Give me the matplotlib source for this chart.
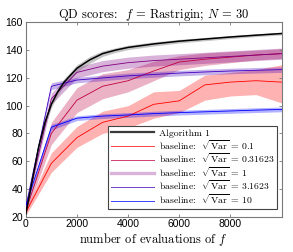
"""QD scores on Rastrigin: Algorithm 1 against baselines with different mutation spreads."""

import matplotlib

matplotlib.use("Agg")

import matplotlib.pyplot as plt  # noqa: E402
from matplotlib.lines import Line2D  # noqa: E402

plt.rcParams["mathtext.fontset"] = "cm"
plt.rcParams["font.family"] = ["Liberation Sans", "DejaVu Sans"]
plt.rcParams["axes.unicode_minus"] = False

# Algorithm 1 (dense curve)
alg_x = [0, 250, 500, 750, 1000, 1250, 1500, 2000, 2500, 3000, 3500, 4000,
         5000, 6000, 7000, 8000, 9000, 10000]
alg_mean = [22, 46, 70, 88, 101, 110, 117, 127, 133, 137.5, 140, 142,
            144.5, 146.5, 148, 149.5, 150.8, 152]
alg_lo = [21, 44, 67.5, 85.5, 98.5, 107.5, 114.5, 124.5, 130.5, 135.5, 138.3, 140.4,
          143, 145.2, 146.8, 148.4, 149.8, 151]
alg_hi = [23, 48, 72.5, 90.5, 103.5, 112.5, 119.5, 129.5, 135.5, 139.5, 141.7, 143.6,
          146, 147.8, 149.2, 150.6, 151.8, 153]

# baselines, sampled every 1000 evaluations
base_x = [0, 1000, 2000, 3000, 4000, 5000, 6000, 7000, 8000, 9000, 10000]
base_labels = ["0.1", "0.31623", "1", "3.1623", "10"]

sd01_mean = [23, 58.5, 77, 88, 92.5, 101, 103.5, 115, 117, 118, 117]
sd01_lo = [21, 52, 70, 80, 84, 91, 95, 104, 107, 108, 102]
sd01_hi = [25, 66, 85, 96, 100, 110, 111, 122, 124, 126, 129.5]

sd03_mean = [24, 80, 104, 114, 118, 125, 131.5, 133.5, 135, 136.5, 137.5]
sd03_lo = [22, 72, 95, 105, 110, 118, 126, 129, 131, 133, 134]
sd03_hi = [26, 88, 113, 123, 126, 132, 136, 138, 139, 140, 141]

sd1_mean = [25, 105, 124, 128.5, 131, 132.5, 133.5, 134.5, 135.5, 136.5, 137.5]
sd1_lo = [23, 101, 120, 124.5, 127, 128.5, 129.5, 130.5, 131.5, 132.5, 133.5]
sd1_hi = [27, 109, 128, 132.5, 135, 136.5, 137.5, 138.5, 139.5, 140.5, 141.5]

sd3_mean = [27, 114, 118.5, 120, 121.5, 122.5, 123.5, 124.3, 125, 125.5, 126]
sd3_lo = [25.5, 111.5, 116.5, 118, 119.5, 120.5, 121.5, 122.3, 123, 123.5, 124]
sd3_hi = [28.5, 116.5, 120.5, 122, 123.5, 124.5, 125.5, 126.3, 127, 127.5, 128]

sd10_mean = [28, 84.5, 91, 92.5, 93.3, 94.3, 95, 95.6, 96.2, 96.8, 97.3]
sd10_lo = [26.5, 82.5, 89.3, 90.8, 91.6, 92.6, 93.3, 93.9, 94.5, 95.1, 95.6]
sd10_hi = [29.5, 86.5, 92.7, 94.2, 95, 96, 96.7, 97.3, 97.9, 98.5, 99]

_BASE_COLORS = [(1.0, 0, 0), (0.75, 0, 0.25), (0.5, 0, 0.5), (0.25, 0, 0.75), (0, 0, 1.0)]
_BAND_ALPHA = 0.3
_AXES_EDGE = "#7a7a7a"
_SERIF = "cmr10"  # Computer Modern, like the LaTeX labels of the original

fig = plt.figure(figsize=(2.93, 2.52), dpi=100)
ax = fig.add_axes([0.088, 0.140, 0.873, 0.771])

series = [
    (sd01_mean, sd01_lo, sd01_hi),
    (sd03_mean, sd03_lo, sd03_hi),
    (sd1_mean, sd1_lo, sd1_hi),
    (sd3_mean, sd3_lo, sd3_hi),
    (sd10_mean, sd10_lo, sd10_hi),
]

# bands first so the lines sit on top
for (mean, lo, hi), color in zip(series, _BASE_COLORS):
    ax.fill_between(base_x, lo, hi, color=color, alpha=_BAND_ALPHA, lw=0, zorder=1)
ax.fill_between(alg_x, alg_lo, alg_hi, color="#808080", alpha=0.45, lw=0, zorder=2)

for (mean, lo, hi), color in zip(series, _BASE_COLORS):
    ax.plot(base_x, mean, color=color, lw=0.6, zorder=3)
ax.plot(alg_x, alg_mean, color="black", lw=1.1, zorder=4)

# legend handles drawn by hand to mimic the original (the sqrt(Var)=1 entry
# shows its band colour rather than the line)
handles = [Line2D([], [], color="#3a3a3a", lw=1.6)]
labels = ["Algorithm 1"]
for lab, color in zip(base_labels, _BASE_COLORS):
    if lab == "1":
        band = tuple(1 - _BAND_ALPHA + _BAND_ALPHA * c for c in color)
        handles.append(Line2D([], [], color=band, lw=2.4))
    else:
        handles.append(Line2D([], [], color=color, lw=0.7, alpha=0.75))
    labels.append("baseline:  $\\sqrt{\\mathrm{Var}}$ = " + lab)

leg = ax.legend(handles, labels, loc="lower right", bbox_to_anchor=(0.983, 0.04),
                borderaxespad=0, prop={"family": _SERIF, "size": 7},
                handlelength=4.4, handletextpad=0.45,
                labelspacing=0.0, borderpad=0.3, fancybox=False, framealpha=1)
leg.get_frame().set_edgecolor("#444444")
leg.get_frame().set_linewidth(0.8)

ax.set_xlim(0, 10000)
ax.set_ylim(20, 160)
ax.set_xticks([0, 2000, 4000, 6000, 8000])
ax.set_yticks(range(20, 161, 20))
ax.tick_params(direction="in", length=2.5, width=0.6, labelsize=7.5, pad=2,
               top=True, right=True, colors=_AXES_EDGE, labelcolor="black")
for spine in ax.spines.values():
    spine.set_color(_AXES_EDGE)
    spine.set_linewidth(0.8)

ax.set_title("QD scores:  $f$ = Rastrigin; $N$ = 30", fontfamily=_SERIF, fontsize=9, pad=3)
ax.set_xlabel("number of evaluations of $f$", fontfamily=_SERIF, fontsize=9, labelpad=1)

fig.savefig("out.png", dpi=100)
plt.close(fig)
